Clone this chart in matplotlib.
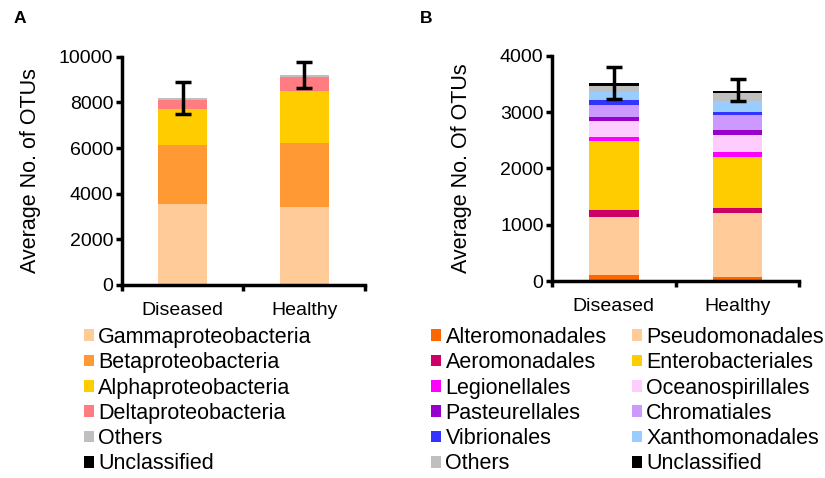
import matplotlib
matplotlib.use("Agg")
import matplotlib.pyplot as plt
from matplotlib.patches import Patch

plt.rcParams['font.family'] = ['Liberation Sans', 'DejaVu Sans']

groups = ["Diseased", "Healthy"]

# panel A: class level, stacked values (bottom -> top)
classes_a = ["Gammaproteobacteria", "Betaproteobacteria", "Alphaproteobacteria",
             "Deltaproteobacteria", "Others", "Unclassified"]
colors_a = ["#FFCC99", "#FF9933", "#FFCC00", "#FF7C80", "#BFBFBF", "#000000"]
diseased_a = [3540, 2580, 1610, 365, 100, 5]
healthy_a = [3420, 2810, 2290, 585, 110, 5]
total_a = [8200, 9200]
err_a = [690, 580]

# panel B: order level
orders_b = ["Alteromonadales", "Pseudomonadales", "Aeromonadales", "Enterobacteriales",
            "Legionellales", "Oceanospirillales", "Pasteurellales", "Chromatiales",
            "Vibrionales", "Xanthomonadales", "Others", "Unclassified"]
colors_b = ["#FF6600", "#FFCC99", "#CC0066", "#FFCC00", "#FF00FF", "#FFCCFF",
            "#9900CC", "#CC99FF", "#3333FF", "#99CCFF", "#BFBFBF", "#000000"]
diseased_b = [107, 1037, 124, 1221, 71, 279, 82, 202, 95, 142, 113, 41]
healthy_b = [71, 1144, 89, 895, 100, 297, 88, 267, 53, 202, 130, 42]
total_b = [3520, 3390]
err_b = [280, 195]


def stacked(ax, data, colors, totals, errs, ymax, step):
    x = [0, 1]
    bottoms = [0, 0]
    for i, c in enumerate(colors):
        vals = [data[0][i], data[1][i]]
        ax.bar(x, vals, 0.4, bottom=bottoms, color=c, linewidth=0)
        bottoms = [bottoms[0] + vals[0], bottoms[1] + vals[1]]
    ax.errorbar(x, totals, yerr=errs, fmt='none', ecolor='black',
                elinewidth=2.5, capsize=6, capthick=2.5)
    ax.set_xlim(-0.5, 1.5)
    ax.set_ylim(0, ymax)
    ax.set_yticks(range(0, ymax + 1, step))
    ax.set_xticks(x)
    ax.set_xticklabels(groups)
    ax.set_xticks([-0.5, 0.5, 1.5], minor=True)
    ax.tick_params(axis='x', which='major', length=0, pad=12.5, labelsize=14)
    ax.tick_params(axis='x', which='minor', length=4, width=2.5, direction='out')
    ax.tick_params(axis='y', length=4, width=2.5, labelsize=14, pad=2)
    for s in ['top', 'right']:
        ax.spines[s].set_visible(False)
    for s in ['left', 'bottom']:
        ax.spines[s].set_linewidth(2.5)


fig = plt.figure(figsize=(8.25, 4.78), dpi=100)
ax1 = fig.add_axes([0.1475, 0.404, 0.295, 0.477])
ax2 = fig.add_axes([0.669, 0.412, 0.300, 0.471])

stacked(ax1, [diseased_a, healthy_a], colors_a, total_a, err_a, 10000, 2000)
stacked(ax2, [diseased_b, healthy_b], colors_b, total_b, err_b, 4000, 1000)
ax1.set_ylabel("Average No. of OTUs", fontsize=15.5, labelpad=13)
ax2.set_ylabel("Average No. Of OTUs", fontsize=15.5, labelpad=20)

fig.text(0.016, 0.962, "A", fontsize=12.5, fontweight='bold', va='center')
fig.text(0.509, 0.962, "B", fontsize=12.5, fontweight='bold', va='center')

leg_kw = dict(frameon=False, fontsize=15.5, handlelength=0.45, handleheight=0.45,
              handletextpad=0.2, labelspacing=0.2, borderaxespad=0, borderpad=0)

h_a = [Patch(facecolor=c, edgecolor='none') for c in colors_a]
fig.legend(h_a, classes_a, loc='upper left', bbox_to_anchor=(0.102, 0.316), **leg_kw)

# two columns, filled column by column
left_col = [0, 2, 4, 6, 8, 10]
right_col = [1, 3, 5, 7, 9, 11]
idx = left_col + right_col
h_b = [Patch(facecolor=colors_b[i], edgecolor='none') for i in idx]
l_b = [orders_b[i] for i in idx]
fig.legend(h_b, l_b, loc='upper left', bbox_to_anchor=(0.523, 0.316), ncol=2,
           columnspacing=1.19, **leg_kw)

fig.savefig("out.png", dpi=100)
